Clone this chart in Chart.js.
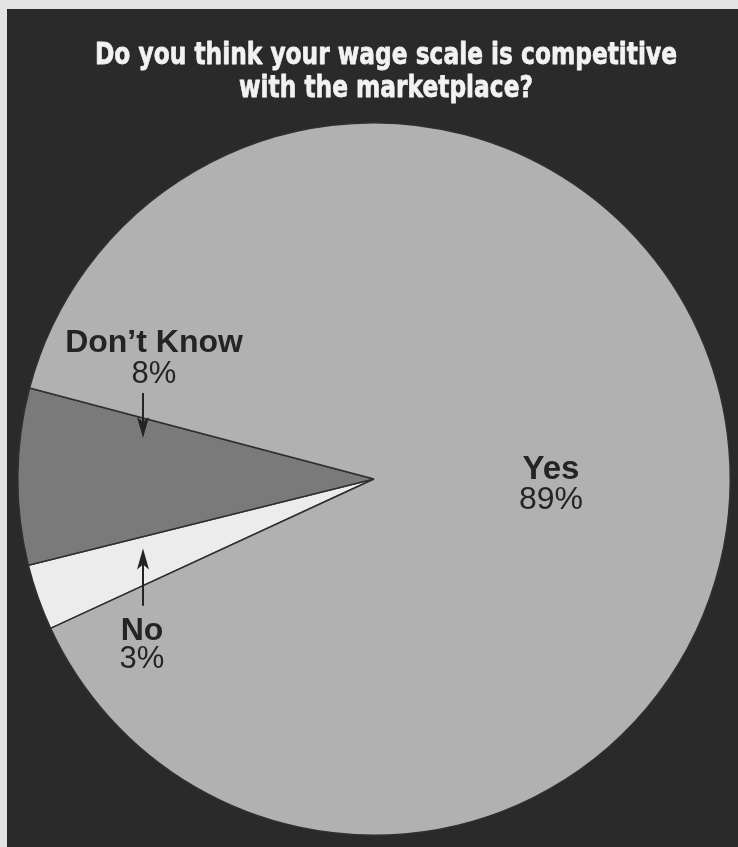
<!DOCTYPE html>
<html>
<head>
<meta charset="utf-8">
<script src="https://cdn.jsdelivr.net/npm/chart.js@4.4.1/dist/chart.umd.min.js"></script>
<style>
  html, body { margin: 0; padding: 0; background: #e2e2e2; }
  #wrap { width: 738px; height: 847px; position: relative; }
</style>
</head>
<body>
<div id="wrap"><canvas id="pie" width="738" height="847"></canvas></div>
<script>
const titleLines = ["Do you think your wage scale is competitive", "with the marketplace?"];
const answers = ["No", "Don’t Know", "Yes"];
const shares = [3, 8, 89];
const sliceColors = ["#ececec", "#7a7a7a", "#b1b1b1"];

const ink = "#242424";

// y where a slice edge (angle a) crosses the vertical line x
function edgeY(arc, x, a) {
  return arc.y + (x - arc.x) * Math.tan(a);
}

function arrow(ctx, x, tail, tip) {
  const dir = Math.sign(tip - tail);
  ctx.beginPath();
  ctx.moveTo(x, tail);
  ctx.lineTo(x, tip - dir * 14);
  ctx.lineWidth = 2;
  ctx.stroke();
  ctx.beginPath();
  ctx.moveTo(x, tip);
  ctx.lineTo(x - 6, tip - dir * 21);
  ctx.lineTo(x, tip - dir * 16);
  ctx.lineTo(x + 6, tip - dir * 21);
  ctx.closePath();
  ctx.fill();
}

const annotate = {
  id: "annotate",
  beforeDraw(chart) {
    const ctx = chart.ctx;
    ctx.save();
    ctx.fillStyle = "#e3e3e3";
    ctx.fillRect(0, 0, chart.width, chart.height);
    ctx.fillStyle = "#2a2a2a";
    ctx.fillRect(7, 9, chart.width - 7, chart.height - 9);
    ctx.restore();
  },
  afterDraw(chart) {
    const ctx = chart.ctx;
    ctx.save();

    // title, squeezed to the width of the printed heading, lightly stroked to look heavier
    ctx.fillStyle = "#f2f2f2";
    ctx.strokeStyle = "#f2f2f2";
    ctx.lineWidth = 0.8;
    ctx.lineJoin = "round";
    ctx.font = "bold 31px 'DejaVu Sans'";
    ctx.textAlign = "center";
    ctx.textBaseline = "alphabetic";
    const sx = 582 / ctx.measureText(titleLines[0]).width;
    titleLines.forEach((line, i) => {
      ctx.save();
      ctx.translate(386, 64 + i * 33);
      ctx.scale(sx, 1);
      ctx.fillText(line, 0, 0);
      ctx.strokeText(line, 0, 0);
      ctx.restore();
    });

    const arcs = chart.getDatasetMeta(0).data;
    const noArc = arcs[0], dkArc = arcs[1];
    const xl = 143;
    ctx.fillStyle = ink;
    ctx.strokeStyle = ink;

    // Don't Know
    const dkTop = edgeY(dkArc, xl, dkArc.endAngle);
    const dkTip = dkTop + 20, dkTail = dkTop - 25;
    arrow(ctx, xl, dkTail, dkTip);
    ctx.font = "bold 32px 'Liberation Sans'";
    ctx.fillText(answers[1], 154, dkTail - 41);
    ctx.font = "31px 'Liberation Sans'";
    ctx.fillText(shares[1] + "%", 154, dkTail - 10);

    // No
    const noTop = edgeY(noArc, xl, noArc.endAngle);
    const noBottom = edgeY(noArc, xl, noArc.startAngle);
    const noTip = noTop + Math.min(12, (noBottom - noTop) / 2);
    const noTail = noBottom + 20;
    arrow(ctx, xl, noTail, noTip);
    ctx.font = "bold 32px 'Liberation Sans'";
    ctx.fillText(answers[0], 142, noTail + 34);
    ctx.font = "31px 'Liberation Sans'";
    ctx.fillText(shares[0] + "%", 142, noTail + 62);

    // Yes
    ctx.font = "bold 33px 'Liberation Sans'";
    ctx.fillText(answers[2], 551, 479);
    ctx.font = "32px 'Liberation Sans'";
    ctx.fillText(shares[2] + "%", 551, 509);

    ctx.restore();
  }
};

new Chart(document.getElementById("pie"), {
  type: "pie",
  data: {
    labels: answers,
    datasets: [{
      data: shares,
      backgroundColor: sliceColors,
      borderColor: "#303030",
      borderWidth: 1.5,
      hoverOffset: 0
    }]
  },
  options: {
    responsive: false,
    animation: false,
    events: [],
    rotation: 245.2,
    layout: { padding: { left: 17, right: 7, top: 122, bottom: 11 } },
    plugins: {
      legend: { display: false },
      tooltip: { enabled: false }
    }
  },
  plugins: [annotate]
});
</script>
</body>
</html>
